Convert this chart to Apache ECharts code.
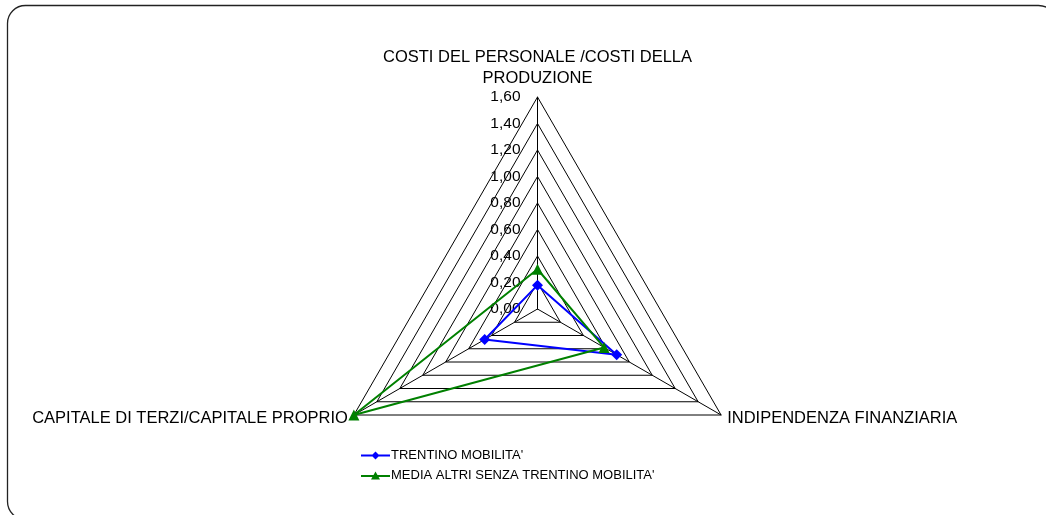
<!DOCTYPE html>
<html><head><meta charset="utf-8">
<script src="https://cdn.jsdelivr.net/npm/echarts@6/dist/echarts.min.js"></script>
<style>html,body{margin:0;padding:0;background:#fff}#c{width:1046px;height:515px}</style>
</head><body><div id="c"></div>
<script>
const indicators = ["COSTI DEL PERSONALE /COSTI DELLA\nPRODUZIONE", "CAPITALE DI TERZI/CAPITALE PROPRIO", "INDIPENDENZA FINANZIARIA"];
const seriesNames = ["TRENTINO MOBILITA'", "MEDIA ALTRI SENZA TRENTINO MOBILITA'"];
const trentino = [0.18, 0.46, 0.69];
const mediaAltri = [0.30, 1.60, 0.58];
const axisMax = 1.6;

const chart = echarts.init(document.getElementById('c'), null, {renderer: 'canvas'});
const font = 'Liberation Sans, Arial, sans-serif';
const iconDiamond = 'path://M0,4 L29,4 L29,6 L0,6 Z M14.5,1 L18.5,5 L14.5,9 L10.5,5 Z';
const iconTriangle = 'path://M0,5.5 L29,5.5 L29,7.5 L0,7.5 Z M14.5,2 L19,10 L10,10 Z';
chart.setOption({
  animation: false,
  graphic: [{type: 'rect', shape: {x: 7.5, y: 5.5, width: 1049, height: 514, r: 18},
    style: {fill: 'none', stroke: '#222', lineWidth: 1.3}, silent: true}],
  legend: {
    orient: 'vertical', left: 356, top: 444, itemWidth: 29, itemHeight: 10, itemGap: 7,
    textStyle: {fontFamily: font, fontSize: 13, color: '#000', padding: [0,0,0,-4]},
    data: [{name: seriesNames[0], icon: iconDiamond}, {name: seriesNames[1], icon: iconTriangle}]
  },
  radar: {
    center: [537.5, 309], radius: 212, startAngle: 90, shape: 'polygon', splitNumber: 8,
    indicator: indicators.map((n, i) => i === 0 ? {name: n, min: 0, max: axisMax,
      axisLabel: {show: true, fontFamily: font, fontSize: 15.5, color: '#000', margin: 17,
        formatter: v => v.toFixed(2).replace('.', ',')}} : {name: n, min: 0, max: axisMax}),
    axisName: {color: '#000', fontFamily: font, fontSize: 16.5, lineHeight: 21},
    nameGap: 7,
    axisLine: {lineStyle: {color: '#000', width: 1}},
    splitLine: {lineStyle: {color: '#000', width: 1}},
    splitArea: {show: false},
    axisTick: {show: false},
    axisLabel: {show: false}
  },
  series: [{
    type: 'radar',
    data: [
      {name: seriesNames[0], value: trentino, symbol: 'diamond', symbolSize: 11,
        lineStyle: {color: '#0000ff', width: 2}, itemStyle: {color: '#0000ff'}},
      {name: seriesNames[1], value: mediaAltri, symbol: 'triangle', symbolSize: 11,
        lineStyle: {color: '#008000', width: 2}, itemStyle: {color: '#008000'}}
    ]
  }]
});
</script></body></html>
